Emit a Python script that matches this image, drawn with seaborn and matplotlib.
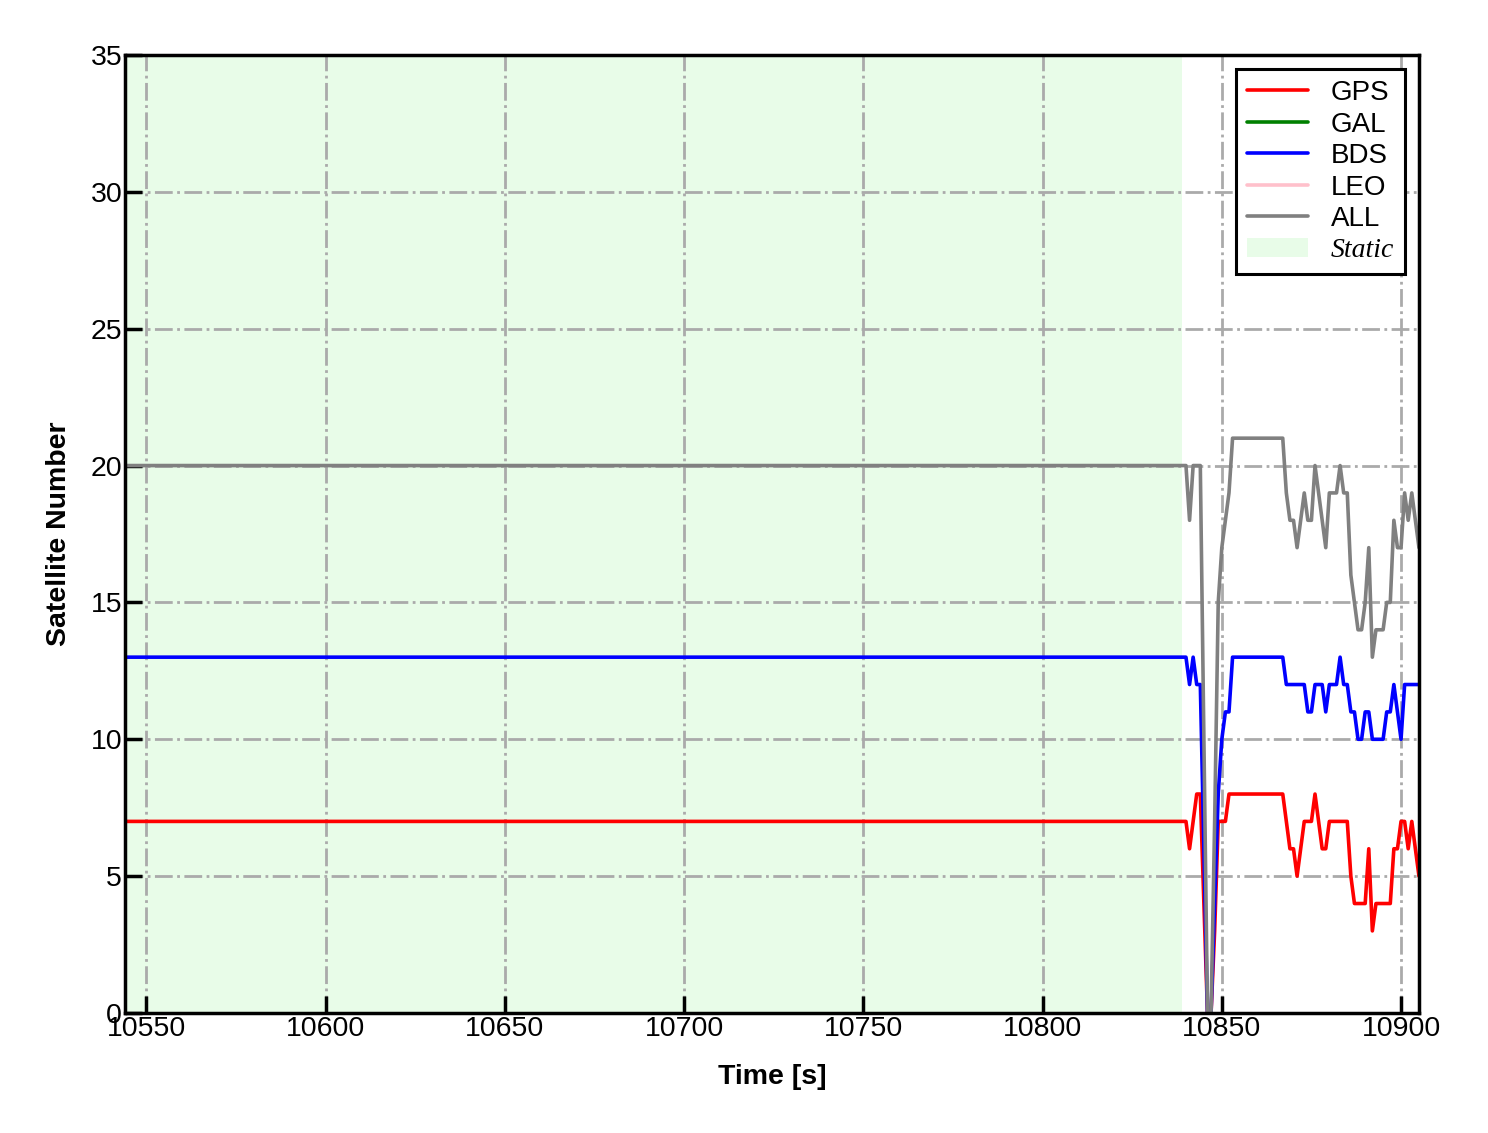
import numpy as np
import pandas as pd
import matplotlib
matplotlib.use("Agg")
import matplotlib.pyplot as plt
import seaborn as sns
from matplotlib.patches import Patch
from matplotlib.lines import Line2D

sns.set_style("ticks")
plt.rcParams['font.family'] = ['Liberation Sans', 'DejaVu Sans']
plt.rcParams['text.color'] = 'black'
plt.rcParams['axes.labelcolor'] = 'black'
plt.rcParams['xtick.color'] = 'black'
plt.rcParams['ytick.color'] = 'black'

# time stamps: start of the static period, then 1 s epochs of the end part
time_s = [10544] + list(range(10839, 10906))

gps = [7,
       7, 7, 6, 7, 8, 8, 4, 0, 0, 3, 7, 7, 7, 8,
       8, 8, 8, 8, 8, 8, 8, 8, 8, 8, 8, 8, 8, 8, 8,
       7, 6, 6, 5, 6, 7, 7, 7, 8, 7, 6, 6, 7, 7, 7, 7, 7, 7, 5, 4,
       4, 4, 4, 6, 3, 4, 4, 4, 4, 4, 6, 6, 7, 7, 6, 7, 6, 5]
bds = [13,
       13, 13, 12, 13, 12, 12, 6, 0, 0, 4, 8, 10, 11, 11,
       13, 13, 13, 13, 13, 13, 13, 13, 13, 13, 13, 13, 13, 13, 13,
       12, 12, 12, 12, 12, 12, 11, 11, 12, 12, 12, 11, 12, 12, 12, 13, 12, 12, 11, 11,
       10, 10, 11, 11, 10, 10, 10, 10, 11, 11, 12, 11, 10, 12, 12, 12, 12, 12]
all_sat = [20,
           20, 20, 18, 20, 20, 20, 10, 0, 0, 7, 15, 17, 18, 19,
           21, 21, 21, 21, 21, 21, 21, 21, 21, 21, 21, 21, 21, 21, 21,
           19, 18, 18, 17, 18, 19, 18, 18, 20, 19, 18, 17, 19, 19, 19, 20, 19, 19, 16, 15,
           14, 14, 15, 17, 13, 14, 14, 14, 15, 15, 18, 17, 17, 19, 18, 19, 18, 17]
gal = []
leo = []

static_start, static_end = 10544, 10839
x_min, x_max = 10544, 10905

series = ['GPS', 'GAL', 'BDS', 'LEO', 'ALL']
colors = {'GPS': 'red', 'GAL': 'green', 'BDS': 'blue', 'LEO': 'pink', 'ALL': 'gray'}
static_color = '#e8fce8'

df = pd.DataFrame({'time': time_s * 3,
                   'num': gps + bds + all_sat,
                   'sys': ['GPS'] * len(gps) + ['BDS'] * len(bds) + ['ALL'] * len(all_sat)})

fig, ax = plt.subplots(figsize=(14.88, 11.33), dpi=100)
fig.subplots_adjust(left=0.084, right=0.9536, top=0.9515, bottom=0.1059)

# static period shading
ax.axvspan(static_start, static_end, color=static_color, zorder=0, lw=0)

ax.set_xlim(x_min, x_max)
ax.set_ylim(0, 35)
ax.set_xticks(np.arange(10550, 10901, 50))
ax.set_yticks(np.arange(0, 36, 5))
ax.grid(True, color='#aaaaaa', ls='-.', lw=2)
ax.set_axisbelow(True)

for name in ['GPS', 'BDS', 'ALL']:
    sub = df[df['sys'] == name]
    sns.lineplot(data=sub, x='time', y='num', color=colors[name], lw=2.6,
                 ax=ax, zorder=3, legend=False)

ax.tick_params(direction='in', length=12, width=2.5, labelsize=20.5, pad=2,
               color='black', labelcolor='black', top=False, right=False)
for s in ax.spines.values():
    s.set_linewidth(2.5)
    s.set_color('black')
    s.set_zorder(5)

ax.set_xlabel('Time [s]', fontsize=20.5, fontweight='bold', labelpad=16)
ax.set_ylabel('Satellite Number', fontsize=20.5, fontweight='bold', labelpad=13)

handles = [Line2D([], [], color=colors[n], lw=2.6) for n in series]
handles.append(Patch(facecolor=static_color, edgecolor='none'))
labels = series + ['Static']
leg = ax.legend(handles, labels, loc='upper right', fontsize=20, frameon=True,
                fancybox=False, framealpha=1, edgecolor='black',
                handlelength=2.2, handletextpad=0.8, labelspacing=0.2,
                borderpad=0.4)
leg.get_frame().set_linewidth(2.2)
leg.set_zorder(6)
for t in leg.get_texts():
    if t.get_text() == 'Static':
        t.set_family(['Liberation Serif', 'DejaVu Serif'])
        t.set_style('italic')

fig.savefig('out.png', dpi=100)
